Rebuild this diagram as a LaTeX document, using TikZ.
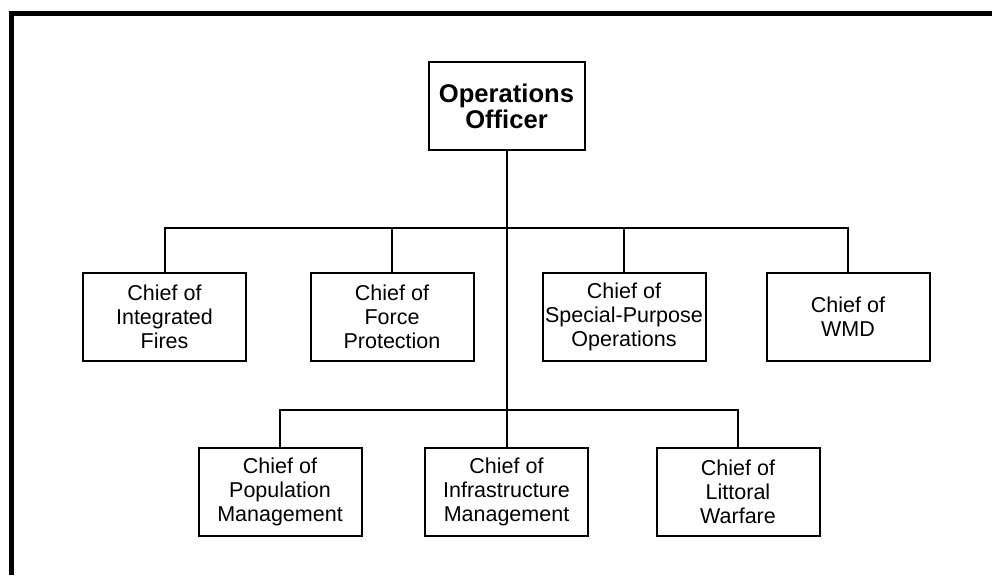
\documentclass[tikz,border=0pt]{standalone}
\usepackage{fontspec}
\setmainfont{Liberation Sans}
\tikzset{every node/.style={rectangle,draw,line width=2pt,minimum width=163pt,minimum height=88pt,inner sep=0pt,align=center,font=\fontsize{21.5}{24}\selectfont}}
\tikzset{head/.style={minimum width=156pt,font=\fontsize{25.6}{26}\selectfont\bfseries}}

\begin{document}
\begin{tikzpicture}[x=1pt,y=-1pt,line width=2pt]
      \useasboundingbox (0,0) rectangle (992,575);
      \draw[line width=5pt] (11.5,575) -- (11.5,13.5) -- (992,13.5);
      \node[head] (OO) at (506.5,106) {Operations\\Officer};
      \node (IF) at (164.5,316.5) {Chief of\\Integrated\\Fires};
      \node (FP) at (392,316.5) {Chief of\\Force\\Protection};
      \node (SP) at (624,316.5) {Chief of\\Special-Purpose\\Operations};
      \node (WMD) at (848,316.5) {Chief of\\WMD};
      \node (PM) at (280,492) {Chief of\\Population\\Management};
      \node (IM) at (506.5,492) {Chief of\\Infrastructure\\Management};
      \node (LW) at (738,492) {Chief of\\Littoral\\Warfare};
      \coordinate (bus1) at (506.5,227.5);
      \coordinate (bus2) at (506.5,410);
      \draw (OO) -- (IM);
      \draw (IF) |- (bus1) -| (WMD);
      \draw (FP) -- (FP |- bus1);
      \draw (SP) -- (SP |- bus1);
      \draw (PM) |- (bus2) -| (LW);
    \end{tikzpicture}
\end{document}
